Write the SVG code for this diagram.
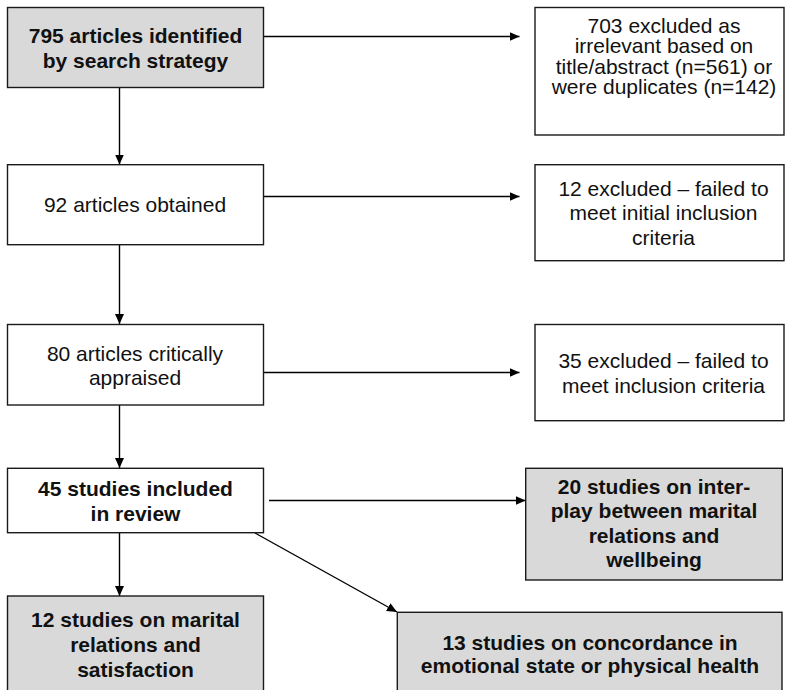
<svg xmlns="http://www.w3.org/2000/svg" width="786" height="690" viewBox="0 0 786 690">
<defs>
<marker id="ah" viewBox="0 0 10 10" refX="10" refY="5" markerWidth="10" markerHeight="10" markerUnits="userSpaceOnUse" orient="auto">
<path d="M0,0.5 L10,5 L0,9.5 Z" fill="#000"/>
</marker>
<style>
.box{fill:#fff;stroke:#1a1a1a;stroke-width:1.4}
.grey{fill:#d9d9d9;stroke:#1a1a1a;stroke-width:1.4}
.t{font-family:"Liberation Sans",Arial,sans-serif;font-size:21px;fill:#111;text-anchor:middle}
.b{font-weight:bold}
.c{stroke:#000;stroke-width:1.4;fill:none;marker-end:url(#ah)}
</style>
</defs>
<rect width="786" height="690" fill="#fff"/>
<g id="connectors">
<line class="c" x1="119.5" y1="88" x2="119.5" y2="164.5"/>
<line class="c" x1="119.5" y1="245" x2="119.5" y2="324"/>
<line class="c" x1="119.5" y1="405" x2="119.5" y2="468"/>
<line class="c" x1="119.5" y1="533" x2="119.5" y2="596"/>
<line class="c" x1="263.5" y1="36.5" x2="519.5" y2="36.5"/>
<line class="c" x1="263.5" y1="196.5" x2="519.5" y2="196.5"/>
<line class="c" x1="263.5" y1="372.5" x2="519.5" y2="372.5"/>
<line class="c" x1="269" y1="500.5" x2="525.5" y2="500.5"/>
<line class="c" x1="255" y1="533" x2="397" y2="612"/>
</g>
<g id="n1">
<rect class="grey" x="7.5" y="7.5" width="256" height="80"/>
<text class="t b" x="135.5" y="43.3">795 articles identified</text>
<text class="t b" x="135.5" y="68.3">by search strategy</text>
</g>
<g id="n2">
<rect class="box" x="7.5" y="164.7" width="256" height="80"/>
<text class="t" x="135" y="212.3">92 articles obtained</text>
</g>
<g id="n3">
<rect class="box" x="7.5" y="324.5" width="256" height="80.5"/>
<text class="t" x="135" y="360.7">80 articles critically</text>
<text class="t" x="135" y="385">appraised</text>
</g>
<g id="n4">
<rect class="box" x="7.5" y="468.3" width="256" height="64.4"/>
<text class="t b" x="135.5" y="495.7">45 studies included</text>
<text class="t b" x="135.5" y="520.7">in review</text>
</g>
<g id="n5">
<rect class="grey" x="7.5" y="596" width="256" height="110"/>
<text class="t b" x="135.5" y="626.7">12 studies on marital</text>
<text class="t b" x="135.5" y="651.7">relations and</text>
<text class="t b" x="135.5" y="676.7">satisfaction</text>
</g>
<g id="r1">
<rect class="box" x="535" y="7.5" width="249" height="127.5"/>
<text class="t" x="664" y="32.5">703 excluded as</text>
<text class="t" x="664" y="53">irrelevant based on</text>
<text class="t" x="664" y="73.5">title/abstract (n=561) or</text>
<text class="t" x="664" y="94">were duplicates (n=142)</text>
</g>
<g id="r2">
<rect class="box" x="535" y="164.7" width="249" height="96"/>
<text class="t" x="663.5" y="195.5">12 excluded – failed to</text>
<text class="t" x="663.5" y="220">meet initial inclusion</text>
<text class="t" x="663.5" y="244.5">criteria</text>
</g>
<g id="r3">
<rect class="box" x="535" y="324.5" width="249" height="96.2"/>
<text class="t" x="663.5" y="368">35 excluded – failed to</text>
<text class="t" x="663.5" y="392.5">meet inclusion criteria</text>
</g>
<g id="r4">
<rect class="grey" x="525.7" y="468.3" width="256.6" height="111.7"/>
<text class="t b" x="654" y="494">20 studies on inter-</text>
<text class="t b" x="654" y="518.3">play between marital</text>
<text class="t b" x="654" y="542.7">relations and</text>
<text class="t b" x="654" y="567">wellbeing</text>
</g>
<g id="r5">
<rect class="grey" x="397.3" y="612.3" width="384.7" height="100"/>
<text class="t b" x="590" y="650">13 studies on concordance in</text>
<text class="t b" x="590" y="672.7">emotional state or physical health</text>
</g>
</svg>
